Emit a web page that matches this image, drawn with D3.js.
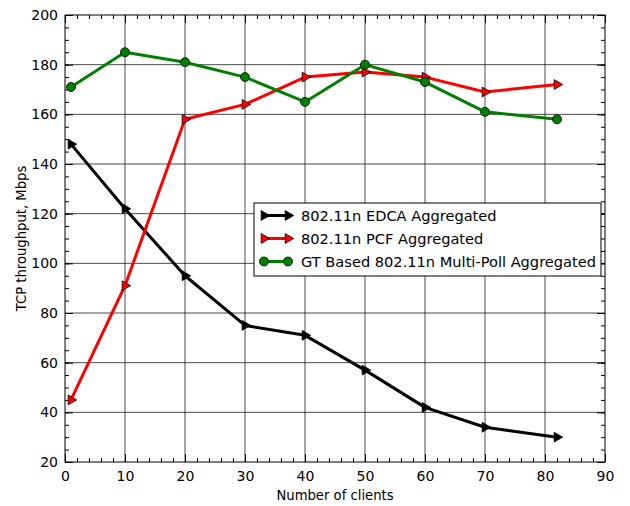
<!DOCTYPE html>
<html>
<head>
<meta charset="utf-8">
<script src="https://cdn.jsdelivr.net/npm/d3@7"></script>
<style>
body { margin: 0; background: #fff; }
text { font-family: "DejaVu Sans", sans-serif; }
</style>
</head>
<body>
<script>
// data
var clients = [1, 10, 20, 30, 40, 50, 60, 70, 82];
var edca = [148, 122, 95, 75, 71, 57, 42, 34, 30];
var pcf = [45, 91, 158, 164, 175, 177, 175, 169, 172];
var gt = [171, 185, 181, 175, 165, 180, 173, 161, 158];
var xTicks = [0, 10, 20, 30, 40, 50, 60, 70, 80, 90];
var yTicks = [20, 40, 60, 80, 100, 120, 140, 160, 180, 200];

var series = [
	{name: "802.11n EDCA Aggregated", values: edca, color: "#000000", marker: "tri"},
	{name: "802.11n PCF Aggregated", values: pcf, color: "#ff0000", marker: "tri"},
	{name: "GT Based 802.11n Multi-Poll Aggregated", values: gt, color: "#008000", marker: "circle"}
];

var margin = {top: 15, right: 25, bottom: 44, left: 65};
var W = 630, H = 506;
var width = W - margin.left - margin.right;
var height = H - margin.top - margin.bottom;

var x = d3.scaleLinear().domain([0, 90]).range([0, width]);
var y = d3.scaleLinear().domain([20, 200]).range([height, 0]);

var svg = d3.select("body").append("svg")
	.attr("width", W)
	.attr("height", H);

var g = svg.append("g")
	.attr("transform", "translate(" + margin.left + "," + margin.top + ")");

// grid
g.selectAll(".vgrid").data(xTicks.slice(1, -1)).enter().append("line")
	.attr("x1", x).attr("x2", x).attr("y1", 0).attr("y2", height)
	.attr("stroke", "#000").attr("stroke-width", 1).attr("opacity", 0.7);
g.selectAll(".hgrid").data(yTicks.slice(1, -1)).enter().append("line")
	.attr("y1", y).attr("y2", y).attr("x1", 0).attr("x2", width)
	.attr("stroke", "#000").attr("stroke-width", 1).attr("opacity", 0.7);

// inward ticks on all four sides
function tickAxis(axis, minor) {
	return axis.tickSizeInner(minor ? -4 : -8).tickSizeOuter(0).tickPadding(minor ? 0 : 6);
}
var xMinor = d3.range(0, 91, 2);
var yMinor = d3.range(20, 201, 5);

var xb = g.append("g").attr("transform", "translate(0," + height + ")")
	.call(tickAxis(d3.axisBottom(x).tickValues(xTicks).tickFormat(d3.format("d"))));
g.append("g").attr("transform", "translate(0," + height + ")")
	.call(tickAxis(d3.axisBottom(x).tickValues(xMinor).tickFormat(""), true));
g.append("g").call(tickAxis(d3.axisTop(x).tickValues(xTicks).tickFormat("")));
g.append("g").call(tickAxis(d3.axisTop(x).tickValues(xMinor).tickFormat(""), true));

var yl = g.append("g")
	.call(tickAxis(d3.axisLeft(y).tickValues(yTicks).tickFormat(d3.format("d"))));
g.append("g").call(tickAxis(d3.axisLeft(y).tickValues(yMinor).tickFormat(""), true));
g.append("g").attr("transform", "translate(" + width + ",0)")
	.call(tickAxis(d3.axisRight(y).tickValues(yTicks).tickFormat("")));
g.append("g").attr("transform", "translate(" + width + ",0)")
	.call(tickAxis(d3.axisRight(y).tickValues(yMinor).tickFormat(""), true));

g.selectAll(".domain").remove();
g.selectAll(".tick line").attr("stroke", "#000");
g.selectAll(".tick text").attr("font-size", 14).attr("fill", "#000")
	.style("font-family", "DejaVu Sans");
xb.selectAll(".tick text").attr("dy", "0.95em");
yl.selectAll(".tick text").attr("dx", "-1px");

// lines and markers
var line = d3.line()
	.x(function(d, i) { return x(clients[i]); })
	.y(function(d) { return y(d); });

var tri = d3.symbol().type(d3.symbolTriangle).size(42);

function drawMarker(sel, s) {
	if (s.marker == "tri") {
		sel.append("path").attr("d", tri)
			.attr("transform", "rotate(90)")
			.attr("fill", s.color).attr("stroke", "#000").attr("stroke-width", 0.8);
	} else {
		sel.append("circle").attr("r", 4.5)
			.attr("fill", s.color).attr("stroke", "#000").attr("stroke-width", 0.8);
	}
}

series.forEach(function(s) {
	g.append("path")
		.datum(s.values)
		.attr("d", line)
		.attr("fill", "none")
		.attr("stroke", s.color)
		.attr("stroke-width", 3)
		.attr("stroke-linejoin", "round");

	var m = g.selectAll(null).data(s.values).enter().append("g")
		.attr("transform", function(d, i) { return "translate(" + x(clients[i]) + "," + y(d) + ")"; });
	drawMarker(m, s);
});

// frame
g.append("rect").attr("width", width).attr("height", height)
	.attr("fill", "none").attr("stroke", "#000").attr("stroke-width", 1);

// legend
var lg = g.append("g").attr("transform", "translate(" + (254 - margin.left) + "," + (203 - margin.top) + ")");
lg.append("rect").attr("width", 347).attr("height", 73)
	.attr("fill", "#fff").attr("stroke", "#000").attr("stroke-width", 1);
series.forEach(function(s, i) {
	var row = lg.append("g").attr("transform", "translate(0," + (12.5 + i * 23) + ")");
	row.append("line").attr("x1", 10).attr("x2", 34)
		.attr("stroke", s.color).attr("stroke-width", 3);
	var mk = row.selectAll(null).data([10, 34]).enter().append("g")
		.attr("transform", function(d) { return "translate(" + d + ",0)"; });
	drawMarker(mk, s);
	row.append("text").attr("x", 47).attr("y", 5)
		.attr("font-size", 14.6).text(s.name);
});

// axis labels
svg.append("text")
	.attr("x", margin.left + width / 2).attr("y", 500)
	.attr("text-anchor", "middle").attr("font-size", 13.2)
	.text("Number of clients");
svg.append("text")
	.attr("transform", "translate(26," + (margin.top + height / 2) + ") rotate(-90)")
	.attr("text-anchor", "middle").attr("font-size", 13.2)
	.text("TCP throughput, Mbps");
</script>
</body>
</html>
